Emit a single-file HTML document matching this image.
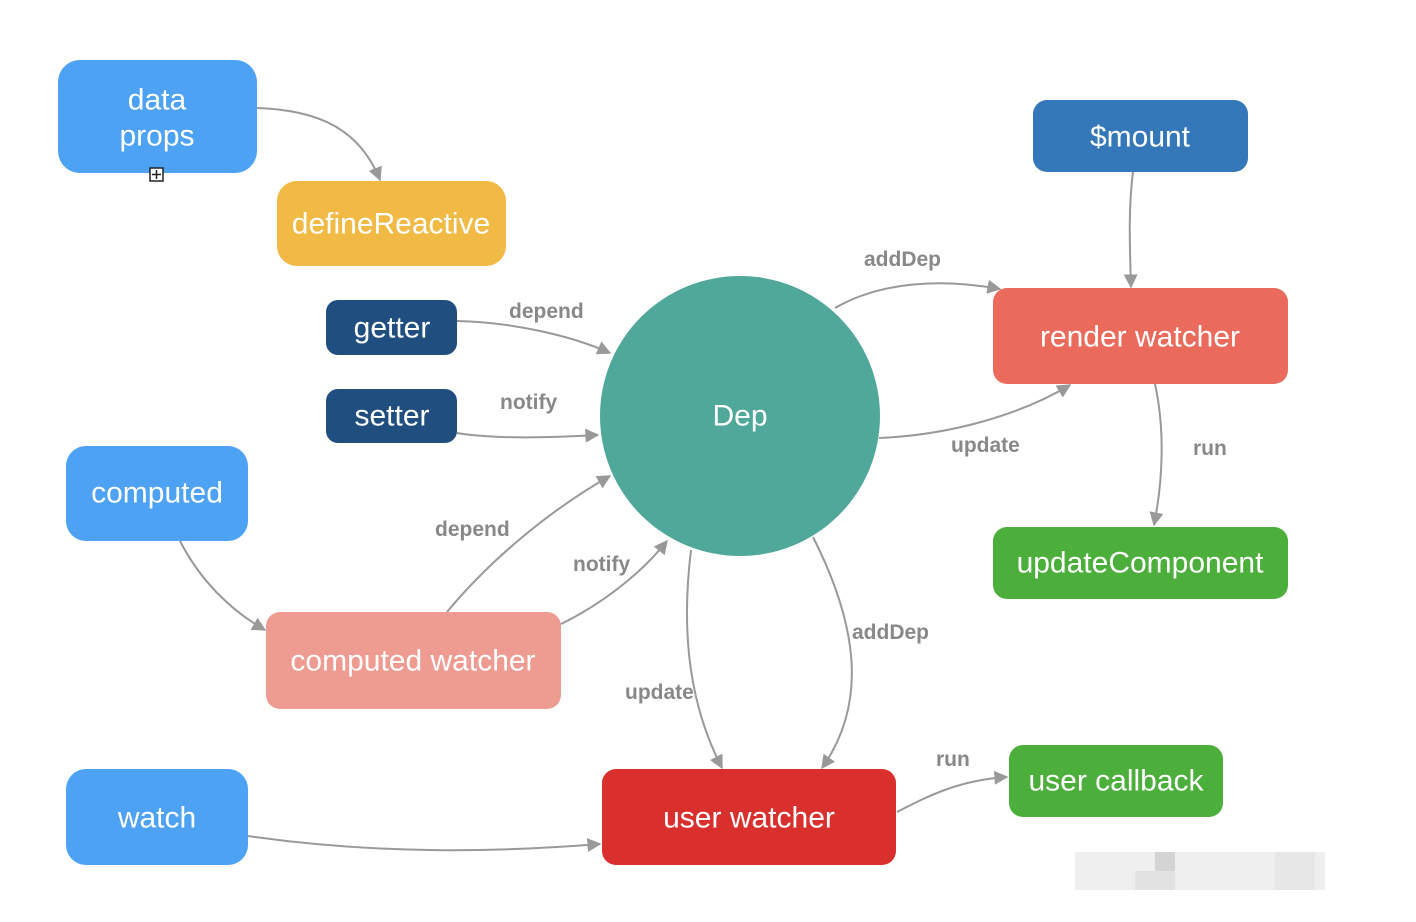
<!DOCTYPE html>
<html><head><meta charset="utf-8"><style>
html,body{margin:0;padding:0;background:#fff;}
svg{display:block;}
.n{font-family:"Liberation Sans",sans-serif;font-size:30px;fill:#fff;text-anchor:middle;dominant-baseline:central;}
.l{font-family:"Liberation Sans",sans-serif;font-size:21px;fill:#888;font-weight:bold;}
.e{fill:none;stroke:#999;stroke-width:2;marker-end:url(#a);}
</style></head><body>
<svg width="1416" height="922" viewBox="0 0 1416 922" xmlns="http://www.w3.org/2000/svg">
<defs><marker id="a" viewBox="0 0 10 10" refX="9" refY="5" markerWidth="7" markerHeight="7" orient="auto"><path d="M0,0 L10,5 L0,10 z" fill="#999"/></marker></defs>

<path class="e" d="M257,108 C320,110 360,130 380,180"/>
<path class="e" d="M457,321 C510,322 570,335 610,353"/>
<path class="e" d="M457,433 C500,440 560,437 598,435"/>
<path class="e" d="M180,541 C200,580 230,610 265,630"/>
<path class="e" d="M447,612 C490,560 550,510 610,476"/>
<path class="e" d="M561,624 C600,605 640,575 667,541"/>
<path class="e" d="M248,836 C380,855 500,852 600,844"/>
<path class="e" d="M835,308 C880,282 940,278 1000,289"/>
<path class="e" d="M879,438 C950,435 1020,415 1070,385"/>
<path class="e" d="M1133,172 C1128,210 1130,250 1131,287"/>
<path class="e" d="M1155,384 C1165,430 1163,480 1154,525"/>
<path class="e" d="M691,550 C680,640 692,710 722,768"/>
<path class="e" d="M813,537 C855,620 870,700 822,768"/>
<path class="e" d="M897,812 C930,795 960,780 1007,777"/>

<text class="l" x="509" y="318">depend</text>
<text class="l" x="500" y="409">notify</text>
<text class="l" x="435" y="536">depend</text>
<text class="l" x="573" y="571">notify</text>
<text class="l" x="864" y="266">addDep</text>
<text class="l" x="951" y="452">update</text>
<text class="l" x="1193" y="455">run</text>
<text class="l" x="852" y="639">addDep</text>
<text class="l" x="625" y="699">update</text>
<text class="l" x="936" y="766">run</text>

<rect x="58" y="60" width="199" height="113" rx="22" fill="#4da2f3"/>
<text class="n" x="157" y="100">data</text>
<text class="n" x="157" y="136">props</text>
<rect x="150" y="168" width="13" height="13" fill="#fff" stroke="#222" stroke-width="1.5"/>
<path d="M156.5,170 v9 M152,174.5 h9" stroke="#222" stroke-width="1.5"/>

<rect x="277" y="181" width="229" height="85" rx="20" fill="#f0ba44"/>
<text class="n" x="391" y="224">defineReactive</text>

<rect x="326" y="300" width="131" height="55" rx="12" fill="#1f4e7f"/>
<text class="n" x="392" y="328">getter</text>
<rect x="326" y="389" width="131" height="54" rx="12" fill="#1f4e7f"/>
<text class="n" x="392" y="416">setter</text>

<rect x="66" y="446" width="182" height="95" rx="20" fill="#4da2f3"/>
<text class="n" x="157" y="493">computed</text>

<rect x="266" y="612" width="295" height="97" rx="14" fill="#ee9b91"/>
<text class="n" x="413" y="661">computed watcher</text>

<rect x="66" y="769" width="182" height="96" rx="20" fill="#4da2f3"/>
<text class="n" x="157" y="818">watch</text>

<rect x="602" y="769" width="294" height="96" rx="14" fill="#d9302e"/>
<text class="n" x="749" y="818">user watcher</text>

<circle cx="740" cy="416" r="140" fill="#4fa89a"/>
<text class="n" x="740" y="416">Dep</text>

<rect x="1033" y="100" width="215" height="72" rx="14" fill="#3578ba"/>
<text class="n" x="1140" y="137">$mount</text>

<rect x="993" y="288" width="295" height="96" rx="14" fill="#ea6a5b"/>
<text class="n" x="1140" y="337">render watcher</text>

<rect x="993" y="527" width="295" height="72" rx="14" fill="#4cae3b"/>
<text class="n" x="1140" y="563">updateComponent</text>

<rect x="1009" y="745" width="214" height="72" rx="14" fill="#4cae3b"/>
<text class="n" x="1116" y="781">user callback</text>

<g opacity="0.6">
<rect x="1075" y="852" width="250" height="38" fill="#e6e6e6"/>
<rect x="1155" y="852" width="20" height="19" fill="#b8b8b8"/>
<rect x="1135" y="871" width="40" height="19" fill="#cfcfcf"/>
<rect x="1275" y="852" width="40" height="38" fill="#d8d8d8"/>
</g>
</svg>
</body></html>
